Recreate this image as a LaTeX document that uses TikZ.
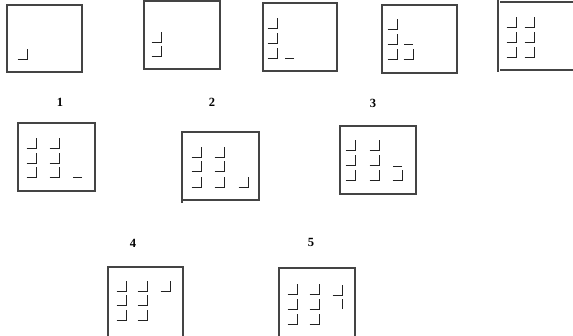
\documentclass[tikz,border=0pt]{standalone}
\usepackage{fontspec}
\setmainfont{Liberation Serif}
\definecolor{Frame}{HTML}{444444}
\definecolor{Glyph}{HTML}{222222}
\tikzset{
  frame/.style={draw=Frame, line width=1.2pt},
  glyph/.style={draw=Glyph, line width=0.85pt},
  caption/.style={font=\fontsize{12.5}{13}\selectfont\bfseries, inner sep=0pt}
}
% corner mark: vertical stroke at x, bottom end at y
\newcommand{\cornermark}[2]{\draw[glyph] (#1,#2) ++(-9.5,0) -- ++(9.5,0) -- ++(0,-10.5);}
% bare horizontal stroke ending at x
\newcommand{\barmark}[2]{\draw[glyph] (#1,#2) -- ++(-9.5,0);}
% bare vertical stroke, bottom end at y
\newcommand{\stemmark}[2]{\draw[glyph] (#1,#2) -- ++(0,-10.5);}

\begin{document}
\begin{tikzpicture}[x=1pt,y=-1pt]
  \useasboundingbox (0,0) rectangle (573,335);
  % first row
  \draw[frame] (7,5) rectangle (82,72);
  \cornermark{27}{59}
  \draw[frame] (144,1) rectangle (220,69);
  \cornermark{161}{42}
  \cornermark{161}{56}
  \draw[frame] (263,3) rectangle (337,71);
  \foreach \y in {28,43,58} {\cornermark{277}{\y}}
  \barmark{294}{58}
  \draw[frame] (382,5) rectangle (457,73);
  \foreach \y in {29,44,59} {\cornermark{397}{\y}}
  \barmark{413}{44}
  \cornermark{413}{59}
  \draw[frame] (500,2) -- (580,2) (580,70) -- (500,70);
  \draw[frame] (498,0) -- (498,72);
  \foreach \x in {516,534} {
    \foreach \y in {27,42,57} {\cornermark{\x}{\y}}
  }
  % second row
  \node[caption] (lab1) at (60,102) {1};
  \draw[frame] (18,123) rectangle (95,191);
  \foreach \x in {36,59} {
    \foreach \y in {148,163,177} {\cornermark{\x}{\y}}
  }
  \barmark{82}{177}
  \node[caption] (lab2) at (212,102) {2};
  \draw[frame] (182,132) rectangle (259,200);
  \draw[frame] (182,200) -- (182,203);
  \foreach \x in {201,224} {
    \foreach \y in {157,171,187} {\cornermark{\x}{\y}}
  }
  \cornermark{248}{187}
  \node[caption] (lab3) at (373,103) {3};
  \draw[frame] (340,126) rectangle (416,194);
  \foreach \x in {355,379} {
    \foreach \y in {150,165,180} {\cornermark{\x}{\y}}
  }
  \barmark{402}{166}
  \cornermark{402}{180}
  % third row
  \node[caption] (lab4) at (133,243) {4};
  \draw[frame] (108,340) -- (108,267) -- (183,267) -- (183,340);
  \foreach \x in {126,147} {
    \foreach \y in {291,305,320} {\cornermark{\x}{\y}}
  }
  \cornermark{170}{291}
  \node[caption] (lab5) at (311,242) {5};
  \draw[frame] (279,340) -- (279,268) -- (355,268) -- (355,340);
  \foreach \x in {297,319} {
    \foreach \y in {294,309,324} {\cornermark{\x}{\y}}
  }
  \cornermark{342}{295}
  \stemmark{342}{309}
\end{tikzpicture}
\end{document}
